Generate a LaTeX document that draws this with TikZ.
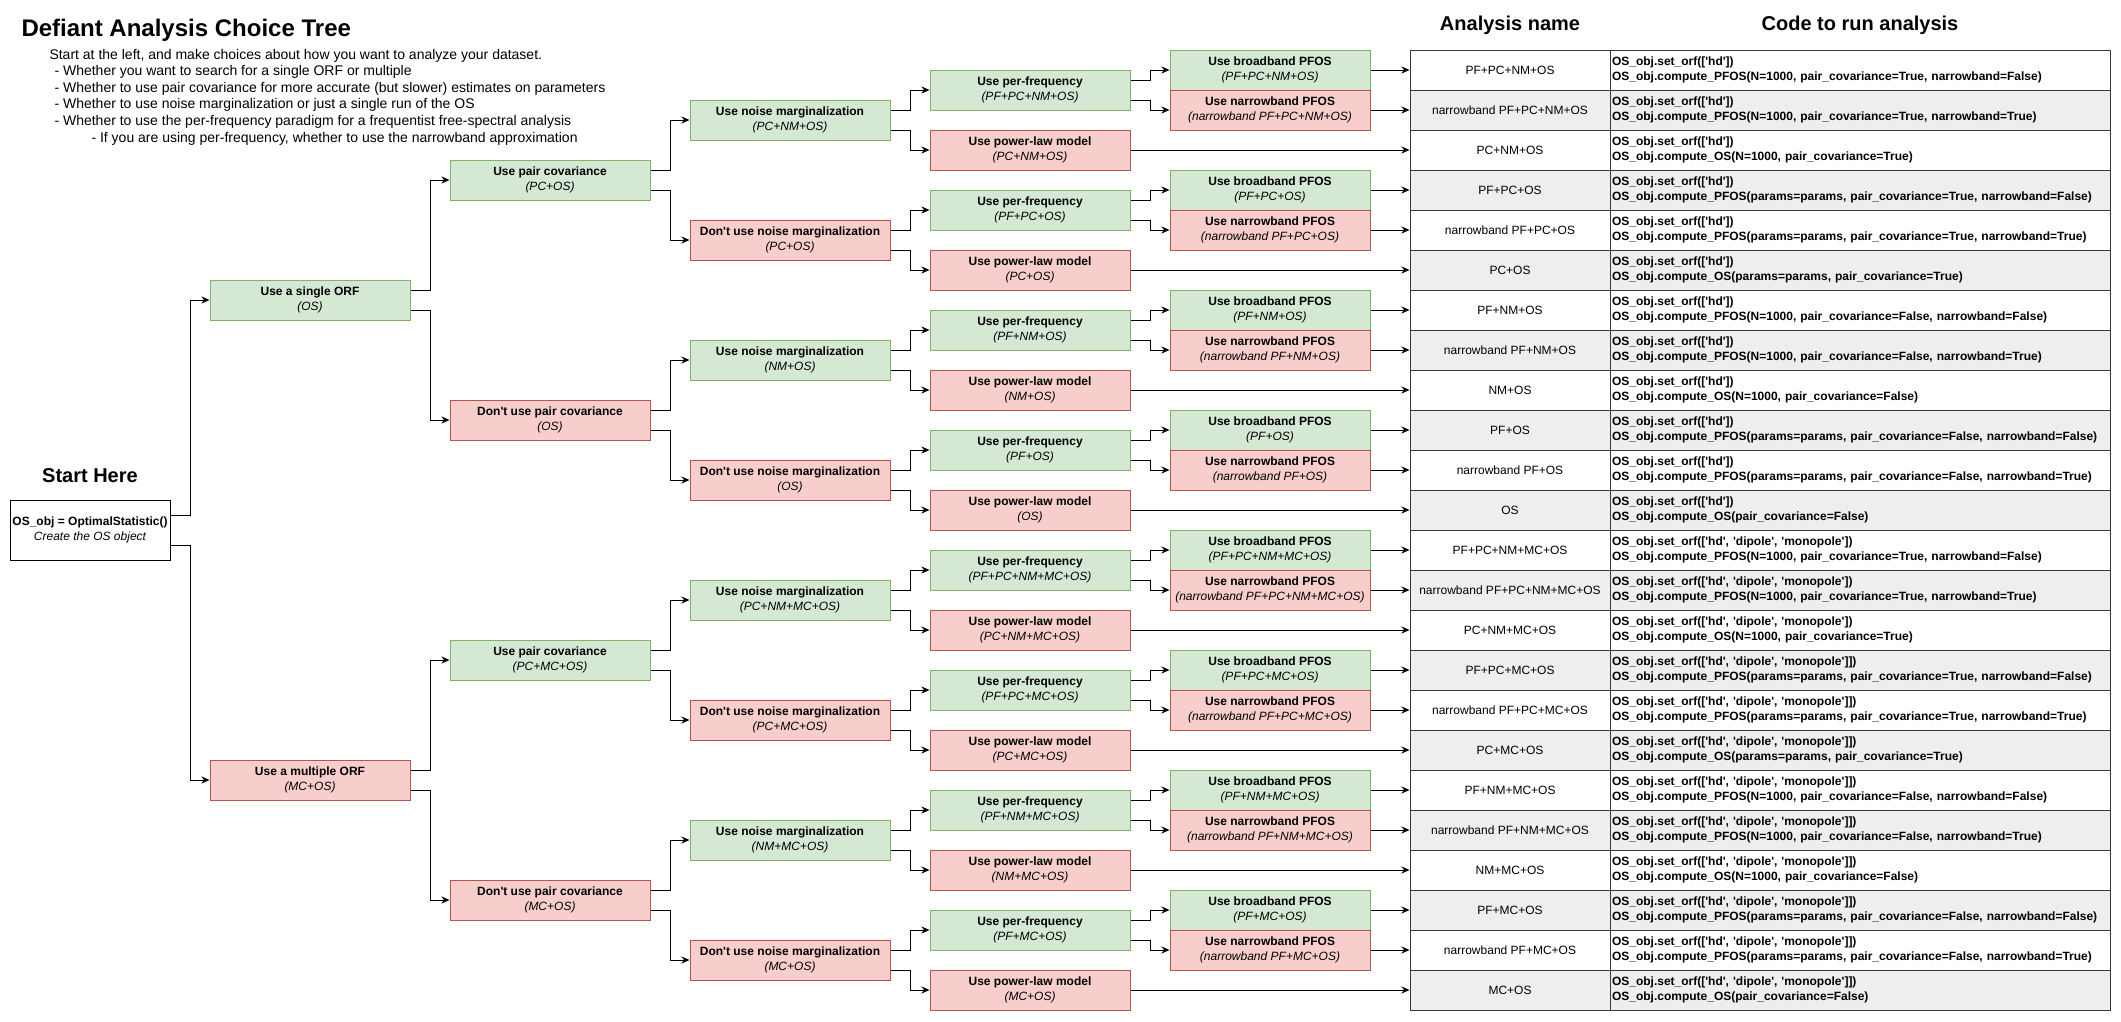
\documentclass[tikz,border=0pt]{standalone}
\usepackage{fontspec}
\setmainfont{Liberation Sans}
\usetikzlibrary{arrows.meta}
\definecolor{gfill}{HTML}{D5E8D4}
\definecolor{gline}{HTML}{82B366}
\definecolor{rfill}{HTML}{F8CECC}
\definecolor{rline}{HTML}{B85450}
\definecolor{rowgray}{HTML}{EEEEEE}
\definecolor{tline}{HTML}{36393D}
\newcommand\sq{\textquotesingle}
\newcommand\orfa{OS\_obj.set\_orf([\sq hd\sq])}
\newcommand\orfb{OS\_obj.set\_orf([\sq hd\sq, \sq dipole\sq, \sq monopole\sq])}
\newcommand\orfc{OS\_obj.set\_orf([\sq hd\sq, \sq dipole\sq, \sq monopole\sq]])}
\newcommand\cpfos{OS\_obj.compute\_PFOS}
\newcommand\cmpos{OS\_obj.compute\_OS}
\newcommand\pcov{pair\_covariance}
\newcommand\trow[5]{%
  \node[namecell,fill=#2] (N#1) at (1510,{70+40*#1}) {#3};
  \node[codecell,fill=#2] (K#1) at (1860,{70+40*#1}) {#4\\#5};}
\newcommand\fork[3]{%
  \draw[arr] ([yshift=10pt]#1.east) -- ++(20,0) |- (#2.west);
  \draw[arr] ([yshift=-10pt]#1.east) -- ++(20,0) |- (#3.west);}
\begin{document}
\begin{tikzpicture}[x=1pt,y=-1pt,line width=1pt,
  every node/.style={font=\fontsize{12}{15}\selectfont},
  box/.style={rectangle,minimum width=200pt,minimum height=40pt,inner sep=0pt,align=center,line width=1pt},
  good/.style={box,fill=gfill,draw=gline},
  bad/.style={box,fill=rfill,draw=rline},
  arr/.style={-{Stealth[length=8pt,width=7pt,inset=2.5pt]},line width=1pt,draw=black},
  namecell/.style={rectangle,draw=tline,line width=1pt,minimum width=200pt,minimum height=40pt,inner sep=0pt,align=center},
  codecell/.style={rectangle,draw=tline,line width=1pt,text width=496pt,inner xsep=2pt,inner ysep=0pt,minimum height=40pt,align=left,font=\fontsize{12}{15}\selectfont\bfseries},
  desc/.style={anchor=west,inner sep=0pt,font=\fontsize{14}{17}\selectfont},
  head/.style={inner sep=0pt,font=\fontsize{20}{24}\selectfont\bfseries}]
\useasboundingbox[fill=white] (0,0) rectangle (2121,1021);

% title and description
\node[anchor=west,inner sep=0pt,font=\fontsize{24}{29}\selectfont\bfseries] (title) at (21,30.5) {Defiant Analysis Choice Tree};
\node[desc] (d1) at (49,55.5) {Start at the left, and make choices about how you want to analyze your dataset.};
\node[desc] (d2) at (54,72) {- Whether you want to search for a single ORF or multiple};
\node[desc] (d3) at (54,88.5) {- Whether to use pair covariance for more accurate (but slower) estimates on parameters};
\node[desc] (d4) at (54,105) {- Whether to use noise marginalization or just a single run of the OS};
\node[desc] (d5) at (54,121.5) {- Whether to use the per-frequency paradigm for a frequentist free-spectral analysis};
\node[desc] (d6) at (91,138.5) {- If you are using per-frequency, whether to use the narrowband approximation};

\node[head] (hname) at (1510,25) {Analysis name};
\node[head] (hcode) at (1860,25) {Code to run analysis};
\node[head] (hstart) at (90,476) {Start Here};

% start box
\node[rectangle,draw=black,fill=white,line width=1pt,minimum width=160pt,minimum height=60pt,inner sep=0pt,align=center] (S) at (90,530)
  {{\bfseries OS\_obj = OptimalStatistic()}\\{\itshape Create the OS object}};

% level 1
\node[good] (A1) at (310,300) {{\bfseries Use a single ORF}\\{\itshape (OS)}};
\node[bad]  (A2) at (310,780) {{\bfseries Use a multiple ORF}\\{\itshape (MC+OS)}};
% level 2
\node[good] (B1) at (550,180) {{\bfseries Use pair covariance}\\{\itshape (PC+OS)}};
\node[bad]  (B2) at (550,420) {{\bfseries Don\sq t use pair covariance}\\{\itshape (OS)}};
\node[good] (B3) at (550,660) {{\bfseries Use pair covariance}\\{\itshape (PC+MC+OS)}};
\node[bad]  (B4) at (550,900) {{\bfseries Don\sq t use pair covariance}\\{\itshape (MC+OS)}};
% level 3
\node[good] (C1) at (790,120) {{\bfseries Use noise marginalization}\\{\itshape (PC+NM+OS)}};
\node[bad]  (C2) at (790,240) {{\bfseries Don\sq t use noise marginalization}\\{\itshape (PC+OS)}};
\node[good] (C3) at (790,360) {{\bfseries Use noise marginalization}\\{\itshape (NM+OS)}};
\node[bad]  (C4) at (790,480) {{\bfseries Don\sq t use noise marginalization}\\{\itshape (OS)}};
\node[good] (C5) at (790,600) {{\bfseries Use noise marginalization}\\{\itshape (PC+NM+MC+OS)}};
\node[bad]  (C6) at (790,720) {{\bfseries Don\sq t use noise marginalization}\\{\itshape (PC+MC+OS)}};
\node[good] (C7) at (790,840) {{\bfseries Use noise marginalization}\\{\itshape (NM+MC+OS)}};
\node[bad]  (C8) at (790,960) {{\bfseries Don\sq t use noise marginalization}\\{\itshape (MC+OS)}};
% levels 4 and 5
\foreach \k/\pf/\pl in {1/PF+PC+NM+OS/PC+NM+OS,2/PF+PC+OS/PC+OS,3/PF+NM+OS/NM+OS,4/PF+OS/OS,5/PF+PC+NM+MC+OS/PC+NM+MC+OS,6/PF+PC+MC+OS/PC+MC+OS,7/PF+NM+MC+OS/NM+MC+OS,8/PF+MC+OS/MC+OS}{
  \pgfmathsetmacro\yd{90+120*(\k-1)}
  \pgfmathsetmacro\ye{150+120*(\k-1)}
  \pgfmathsetmacro\yf{70+120*(\k-1)}
  \pgfmathsetmacro\yg{110+120*(\k-1)}
  \node[good] (D\k) at (1030,\yd) {{\bfseries Use per-frequency}\\{\itshape (\pf)}};
  \node[bad]  (E\k) at (1030,\ye) {{\bfseries Use power-law model}\\{\itshape (\pl)}};
  \node[good] (F\k) at (1270,\yf) {{\bfseries Use broadband PFOS}\\{\itshape (\pf)}};
  \node[bad]  (G\k) at (1270,\yg) {{\bfseries Use narrowband PFOS}\\{\itshape (narrowband \pf)}};
}

% table
\trow{0}{white}{PF+PC+NM+OS}{\orfa}{\cpfos(N=1000, \pcov=True, narrowband=False)}
\trow{1}{rowgray}{narrowband PF+PC+NM+OS}{\orfa}{\cpfos(N=1000, \pcov=True, narrowband=True)}
\trow{2}{white}{PC+NM+OS}{\orfa}{\cmpos(N=1000, \pcov=True)}
\trow{3}{rowgray}{PF+PC+OS}{\orfa}{\cpfos(params=params, \pcov=True, narrowband=False)}
\trow{4}{white}{narrowband PF+PC+OS}{\orfa}{\cpfos(params=params, \pcov=True, narrowband=True)}
\trow{5}{rowgray}{PC+OS}{\orfa}{\cmpos(params=params, \pcov=True)}
\trow{6}{white}{PF+NM+OS}{\orfa}{\cpfos(N=1000, \pcov=False, narrowband=False)}
\trow{7}{rowgray}{narrowband PF+NM+OS}{\orfa}{\cpfos(N=1000, \pcov=False, narrowband=True)}
\trow{8}{white}{NM+OS}{\orfa}{\cmpos(N=1000, \pcov=False)}
\trow{9}{rowgray}{PF+OS}{\orfa}{\cpfos(params=params, \pcov=False, narrowband=False)}
\trow{10}{white}{narrowband PF+OS}{\orfa}{\cpfos(params=params, \pcov=False, narrowband=True)}
\trow{11}{rowgray}{OS}{\orfa}{\cmpos(\pcov=False)}
\trow{12}{white}{PF+PC+NM+MC+OS}{\orfb}{\cpfos(N=1000, \pcov=True, narrowband=False)}
\trow{13}{rowgray}{narrowband PF+PC+NM+MC+OS}{\orfb}{\cpfos(N=1000, \pcov=True, narrowband=True)}
\trow{14}{white}{PC+NM+MC+OS}{\orfb}{\cmpos(N=1000, \pcov=True)}
\trow{15}{rowgray}{PF+PC+MC+OS}{\orfc}{\cpfos(params=params, \pcov=True, narrowband=False)}
\trow{16}{white}{narrowband PF+PC+MC+OS}{\orfc}{\cpfos(params=params, \pcov=True, narrowband=True)}
\trow{17}{rowgray}{PC+MC+OS}{\orfc}{\cmpos(params=params, \pcov=True)}
\trow{18}{white}{PF+NM+MC+OS}{\orfc}{\cpfos(N=1000, \pcov=False, narrowband=False)}
\trow{19}{rowgray}{narrowband PF+NM+MC+OS}{\orfc}{\cpfos(N=1000, \pcov=False, narrowband=True)}
\trow{20}{white}{NM+MC+OS}{\orfc}{\cmpos(N=1000, \pcov=False)}
\trow{21}{rowgray}{PF+MC+OS}{\orfc}{\cpfos(params=params, \pcov=False, narrowband=False)}
\trow{22}{white}{narrowband PF+MC+OS}{\orfc}{\cpfos(params=params, \pcov=False, narrowband=True)}
\trow{23}{rowgray}{MC+OS}{\orfc}{\cmpos(\pcov=False)}

% connectors
\draw[arr] ([yshift=15pt]S.east) -- ++(20,0) |- (A1.west);
\draw[arr] ([yshift=-15pt]S.east) -- ++(20,0) |- (A2.west);
\fork{A1}{B1}{B2}
\fork{A2}{B3}{B4}
\fork{B1}{C1}{C2}
\fork{B2}{C3}{C4}
\fork{B3}{C5}{C6}
\fork{B4}{C7}{C8}
\foreach \k in {1,...,8}{
  \pgfmathtruncatemacro\ra{3*(\k-1)}
  \pgfmathtruncatemacro\rb{3*(\k-1)+1}
  \pgfmathtruncatemacro\rc{3*(\k-1)+2}
  \fork{C\k}{D\k}{E\k}
  \fork{D\k}{F\k}{G\k}
  \draw[arr] (F\k.east) -- (N\ra.west);
  \draw[arr] (G\k.east) -- (N\rb.west);
  \draw[arr] (E\k.east) -- (N\rc.west);
}
\end{tikzpicture}
\end{document}
